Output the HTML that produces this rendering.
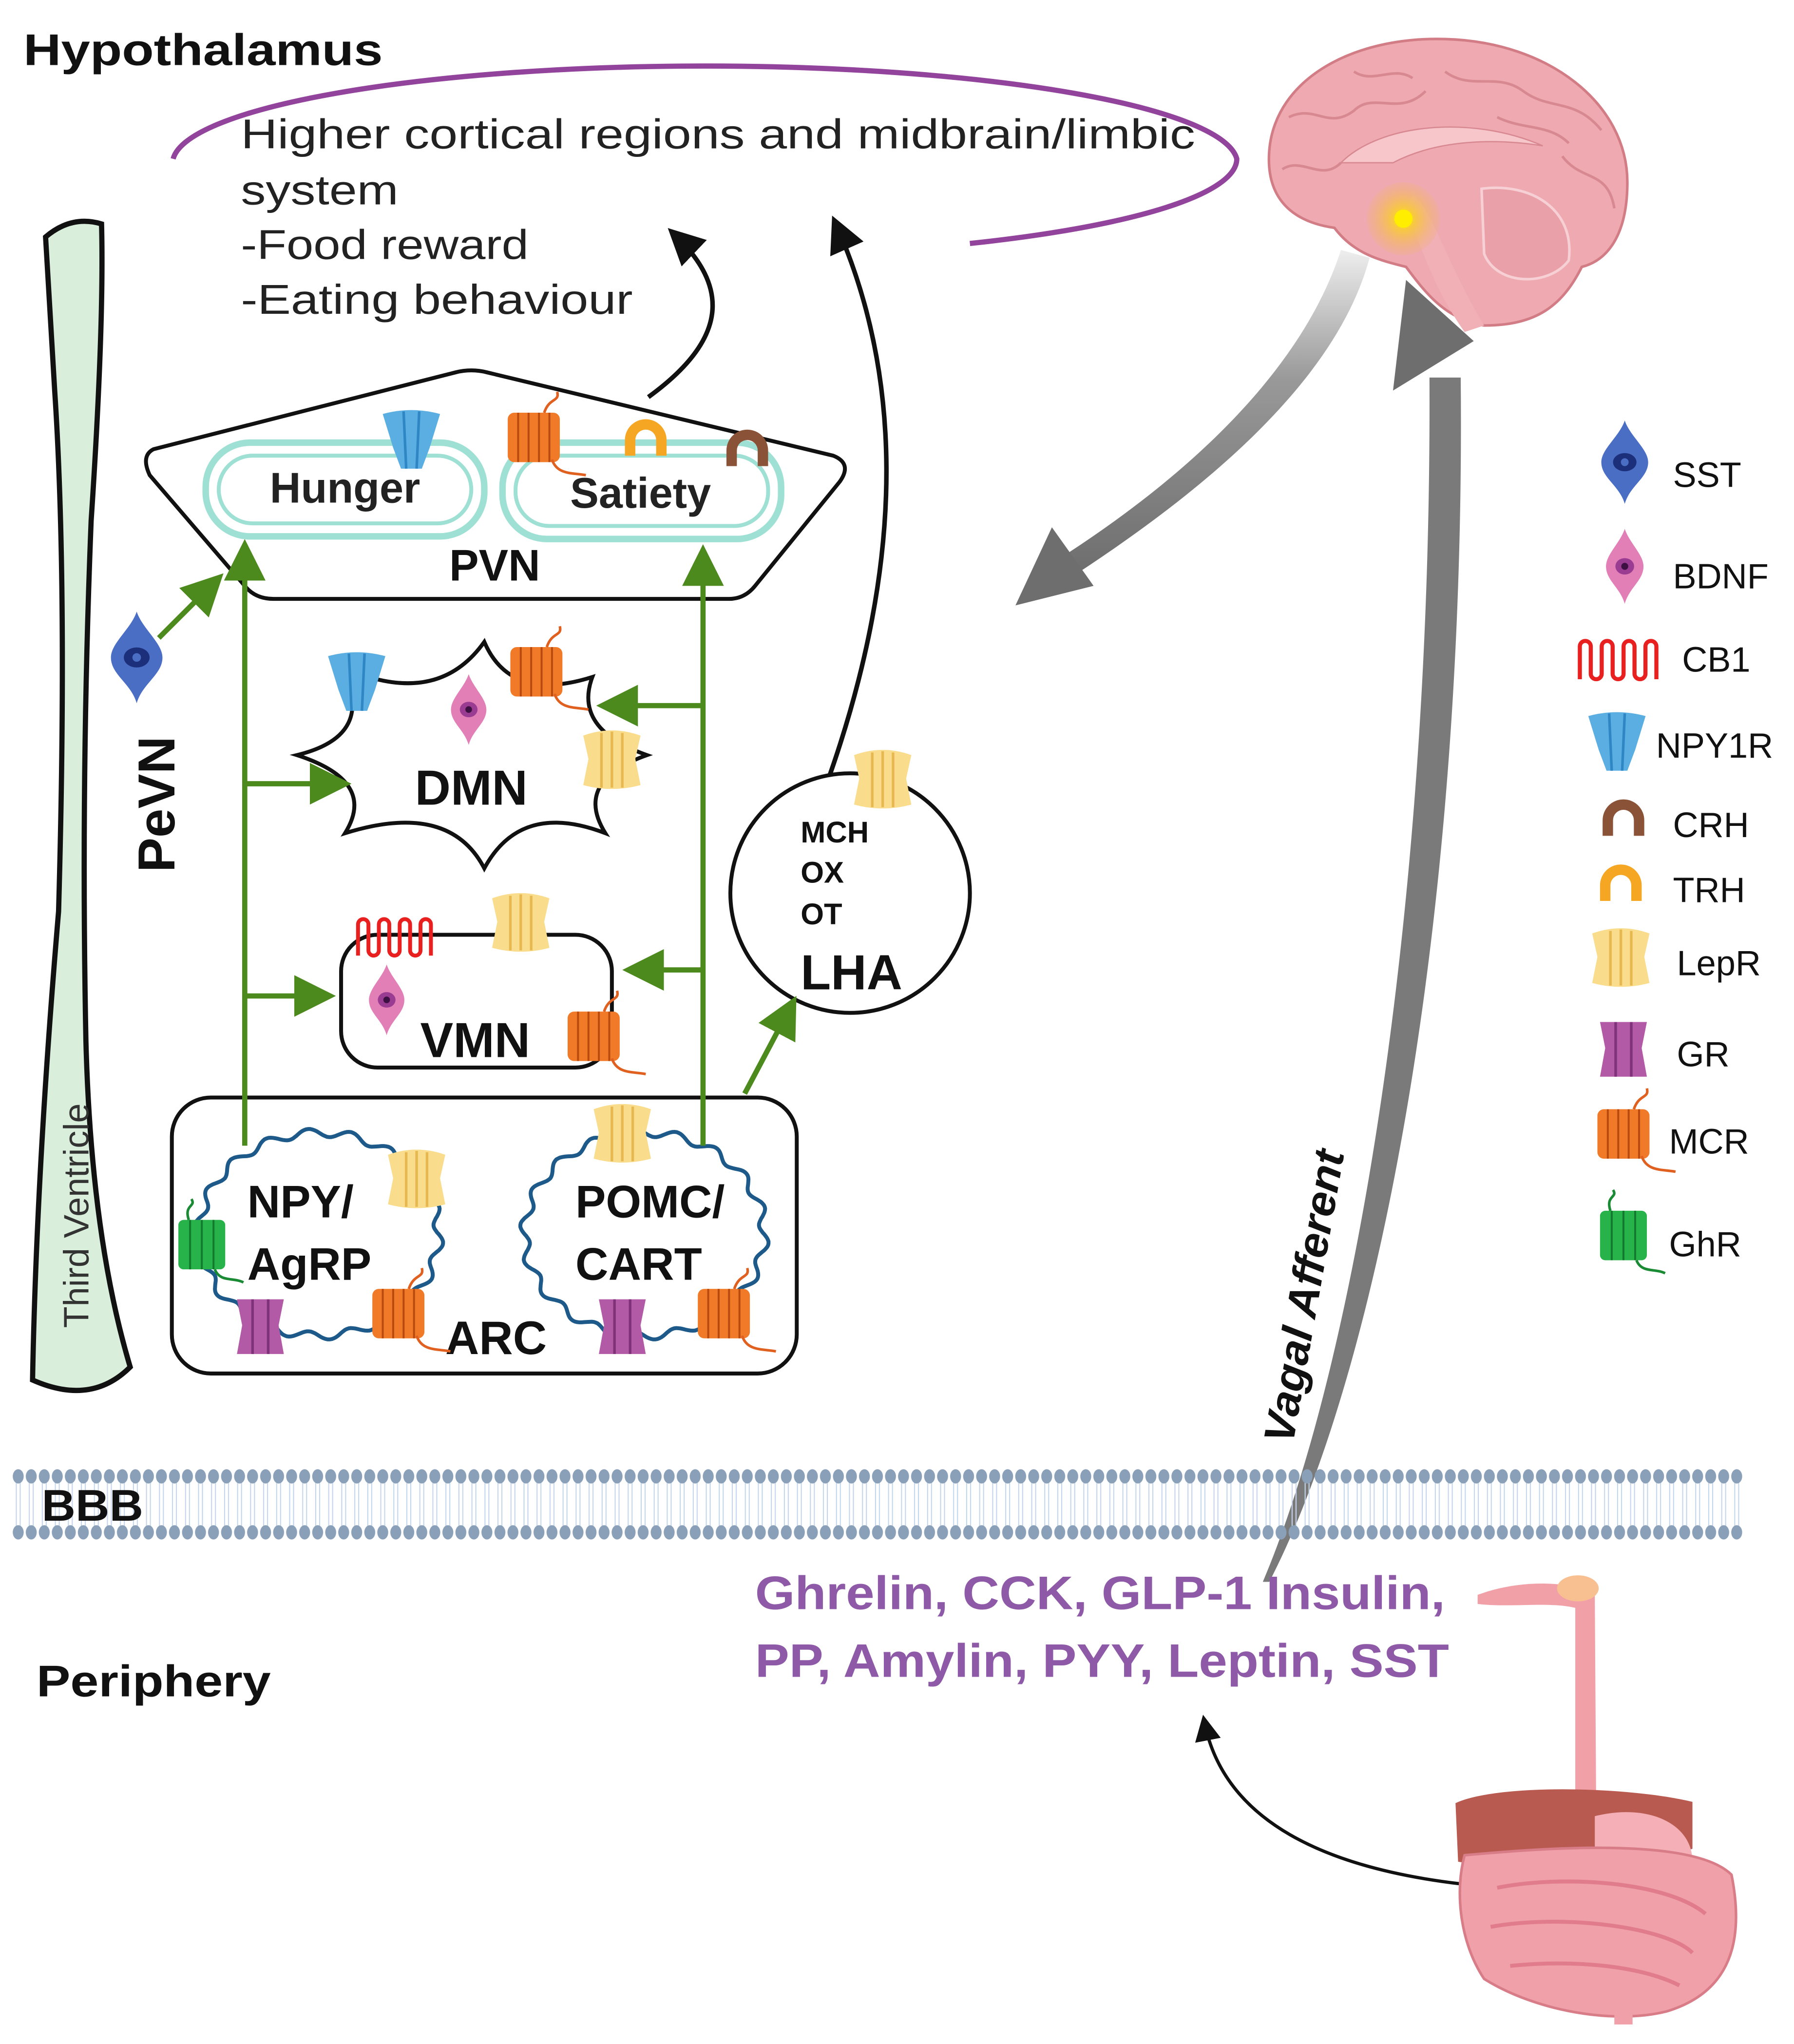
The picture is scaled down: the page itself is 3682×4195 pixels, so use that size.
<!DOCTYPE html>
<html><head><meta charset="utf-8">
<style>
html,body{margin:0;padding:0;background:#fff;}
svg{display:block;}
text{font-family:"Liberation Sans",sans-serif;}
</style></head>
<body>
<svg id="s" xmlns="http://www.w3.org/2000/svg" width="3682" height="4195" viewBox="0 0 1378 1570">
<defs>
  <marker id="ga" markerWidth="8" markerHeight="8" refX="6" refY="4" orient="auto" markerUnits="strokeWidth">
    <path d="M0,0 L8,4 L0,8 Z" fill="#4d8a1e"/>
  </marker>
  <marker id="ba" markerWidth="8" markerHeight="8" refX="6" refY="4" orient="auto" markerUnits="strokeWidth">
    <path d="M0,0 L8,4 L0,8 Z" fill="#111"/>
  </marker>
  <linearGradient id="fade" x1="0" y1="0" x2="0" y2="1">
    <stop offset="0" stop-color="#eee"/><stop offset="0.4" stop-color="#999"/><stop offset="1" stop-color="#6e6e6e"/>
  </linearGradient>
  <radialGradient id="glow"><stop offset="0" stop-color="#ffee00"/><stop offset="0.3" stop-color="#f8c840"/><stop offset="1" stop-color="#f3b070" stop-opacity="0.2"/></radialGradient>
  <pattern id="lip" width="10" height="48" patternUnits="userSpaceOnUse" x="9">
    <line x1="3.5" y1="0" x2="3.5" y2="48" stroke="#c4d6ec" stroke-width="0.8"/>
    <line x1="6.5" y1="0" x2="6.5" y2="48" stroke="#c4d6ec" stroke-width="0.8"/>
  </pattern>
  <pattern id="heads" width="10" height="12" patternUnits="userSpaceOnUse" x="9" y="1128">
    <ellipse cx="5" cy="6" rx="4.2" ry="5.5" fill="#8aa0b8"/>
  </pattern>
  <g id="mcr">
    <rect x="-20" y="-18" width="40" height="38" rx="5" fill="#f07a28"/>
    <g stroke="#b84a10" stroke-width="1.5"><line x1="-12" y1="-18" x2="-12" y2="20"/><line x1="-4" y1="-18" x2="-4" y2="20"/><line x1="4" y1="-18" x2="4" y2="20"/><line x1="12" y1="-18" x2="12" y2="20"/></g>
    <path d="M8,-18 C12,-30 20,-26 18,-34" stroke="#e06020" stroke-width="2" fill="none"/>
    <path d="M14,18 C18,30 30,28 40,30" stroke="#e06020" stroke-width="2" fill="none"/>
  </g>
  <g id="lepr">
    <path d="M-22,-18 Q0,-26 22,-18 L18,0 L22,20 Q0,26 -22,20 L-18,0 Z" fill="#f9dc8c"/>
    <g stroke="#e8b850" stroke-width="2"><line x1="-8" y1="-20" x2="-8" y2="22"/><line x1="0" y1="-21" x2="0" y2="22"/><line x1="8" y1="-20" x2="8" y2="22"/></g>
  </g>
  <g id="gr">
    <path d="M-18,-20 L18,-20 L14,0 L18,22 L-18,22 L-14,0 Z" fill="#b25aa6"/>
    <g stroke="#7e3278" stroke-width="2"><line x1="-6" y1="-20" x2="-6" y2="22"/><line x1="6" y1="-20" x2="6" y2="22"/></g>
  </g>
  <g id="ghr">
    <rect x="-18" y="-18" width="36" height="38" rx="4" fill="#27b24a"/>
    <g stroke="#127a2c" stroke-width="1.5"><line x1="-9" y1="-18" x2="-9" y2="20"/><line x1="0" y1="-18" x2="0" y2="20"/><line x1="9" y1="-18" x2="9" y2="20"/></g>
    <path d="M-10,-18 C-14,-30 -4,-28 -8,-34" stroke="#1a8a34" stroke-width="2" fill="none"/>
    <path d="M10,20 C14,30 24,26 32,30" stroke="#1a8a34" stroke-width="2" fill="none"/>
  </g>
  <g id="npy">
    <path d="M-22,-20 Q0,-26 22,-20 L14,6 L8,22 L-8,22 L-14,6 Z" fill="#5aaee2"/>
    <g stroke="#2f86c4" stroke-width="2"><line x1="-6" y1="-22" x2="-4" y2="22"/><line x1="6" y1="-22" x2="4" y2="22"/></g>
  </g>
  <path id="trh" d="M-16,12 L-16,0 A16,16 0 0 1 16,0 L16,12 L8,12 L8,0 A8,8 0 0 0 -8,0 L-8,12 Z" fill="#f5a623"/>
  <path id="crh" d="M-16,12 L-16,0 A16,16 0 0 1 16,0 L16,12 L8,12 L8,0 A8,8 0 0 0 -8,0 L-8,12 Z" fill="#8a5236"/>
  <path id="cb1" d="M-30,14 L-30,-10 A4,4 0 0 1 -22,-10 L-22,10 A4,4 0 0 0 -14,10 L-14,-10 A4,4 0 0 1 -6,-10 L-6,10 A4,4 0 0 0 2,10 L2,-10 A4,4 0 0 1 10,-10 L10,10 A4,4 0 0 0 18,10 L18,-10 A4,4 0 0 1 26,-10 L26,14" fill="none" stroke="#e82020" stroke-width="3"/>
  <g id="sst">
    <path d="M0,-32 C4,-20 18,-10 18,0 C18,12 4,18 0,32 C-4,18 -18,12 -18,0 C-18,-10 -4,-20 0,-32 Z" fill="#4a6ec4"/>
    <ellipse cx="0" cy="0" rx="9" ry="7" fill="#1c2f7a"/><circle cx="0" cy="0" r="3" fill="#4a6ec4"/>
  </g>
  <g id="bdnf">
    <path d="M0,-32 C4,-20 16,-10 16,0 C16,12 4,18 0,32 C-4,18 -16,12 -16,0 C-16,-10 -4,-20 0,-32 Z" fill="#e17fb6"/>
    <ellipse cx="0" cy="0" rx="8" ry="7" fill="#9a3c92"/><circle cx="0" cy="0" r="3" fill="#3c1040"/>
  </g>
</defs>

<!-- Title texts -->
<text x="18" y="50" font-size="34" font-weight="bold" fill="#111" textLength="276" lengthAdjust="spacingAndGlyphs">Hypothalamus</text>
<path d="M133,122 A409,75 0 0 1 950,122 A409,75 0 0 1 745,187" fill="none" stroke="#92439b" stroke-width="4"/>
<g font-size="32" fill="#222">
<text x="185" y="114" textLength="733" lengthAdjust="spacingAndGlyphs">Higher cortical regions and midbrain/limbic</text>
<text x="185" y="157" textLength="121" lengthAdjust="spacingAndGlyphs">system</text>
<text x="185" y="199" textLength="221" lengthAdjust="spacingAndGlyphs">-Food reward</text>
<text x="185" y="241" textLength="301" lengthAdjust="spacingAndGlyphs">-Eating behaviour</text>
</g>

<!-- Third ventricle -->
<path d="M35,182 Q55,165 78,172 Q80,250 70,400 Q62,600 66,800 Q70,950 100,1050 Q70,1080 25,1060 Q28,900 45,700 Q52,450 42,300 Z" fill="#d9efdb" stroke="#111" stroke-width="4"/>
<text transform="translate(68,1020) rotate(-90)" font-size="27" fill="#333">Third Ventricle</text>
<text transform="translate(134,670) rotate(-90)" font-size="40" font-weight="bold" fill="#111">PeVN</text>
<use href="#sst" transform="translate(105,505) scale(1.1)"/>
<line x1="122" y1="490" x2="166" y2="446" stroke="#4d8a1e" stroke-width="4" marker-end="url(#ga)"/>

<!-- curved black arrows -->
<path d="M498,305 C560,260 560,220 518,180" fill="none" stroke="#111" stroke-width="3.5" marker-end="url(#ba)"/>
<path d="M635,602 C700,420 690,280 642,172" fill="none" stroke="#111" stroke-width="3.5" marker-end="url(#ba)"/>

<!-- PVN -->
<path d="M118,345 L350,286 Q362,283 374,286 L640,350 Q655,356 645,370 L580,450 Q572,460 560,460 L210,460 Q196,460 188,450 L115,365 Q108,350 118,345 Z" fill="#fff" stroke="#111" stroke-width="3"/>
<rect x="158" y="340" width="214" height="72" rx="34" fill="#fff" stroke="#9ee0d4" stroke-width="5"/>
<rect x="168" y="350" width="194" height="52" rx="26" fill="none" stroke="#9ee0d4" stroke-width="3"/>
<rect x="386" y="340" width="214" height="74" rx="34" fill="#fff" stroke="#9ee0d4" stroke-width="5"/>
<rect x="396" y="350" width="194" height="54" rx="26" fill="none" stroke="#9ee0d4" stroke-width="3"/>
<text x="265" y="386" font-size="33" font-weight="bold" text-anchor="middle" fill="#222">Hunger</text>
<text x="492" y="390" font-size="33" font-weight="bold" text-anchor="middle" fill="#222">Satiety</text>
<text x="380" y="446" font-size="34" font-weight="bold" text-anchor="middle" fill="#111">PVN</text>
<use href="#npy" transform="translate(316,338)"/>
<use href="#mcr" transform="translate(410,335)"/>
<use href="#trh" transform="translate(496,338)"/>
<use href="#crh" transform="translate(574,346)"/>

<!-- DMN -->
<path d="M372,493 Q392,540 455,520 Q440,560 497,580 Q440,600 465,640 Q400,615 372,667 Q345,615 265,640 Q290,600 228,580 Q290,565 262,512 Q335,545 372,493 Z" fill="#fff" stroke="#111" stroke-width="3"/>
<text x="362" y="618" font-size="38" font-weight="bold" text-anchor="middle" fill="#111">DMN</text>
<use href="#npy" transform="translate(274,524)"/>
<use href="#bdnf" transform="translate(360,545) scale(0.85)"/>
<use href="#mcr" transform="translate(412,515)"/>
<use href="#lepr" transform="translate(470,583)"/>

<!-- VMN -->
<rect x="262" y="718" width="208" height="102" rx="28" fill="#fff" stroke="#111" stroke-width="3"/>
<text x="365" y="812" font-size="38" font-weight="bold" text-anchor="middle" fill="#111">VMN</text>
<use href="#cb1" transform="translate(305,720)"/>
<use href="#lepr" transform="translate(400,708)"/>
<use href="#bdnf" transform="translate(297,768) scale(0.85)"/>
<use href="#mcr" transform="translate(456,795)"/>

<!-- LHA -->
<circle cx="653" cy="686" r="92" fill="#fff" stroke="#111" stroke-width="3"/>
<use href="#lepr" transform="translate(678,598)"/>
<g font-size="23" font-weight="bold" fill="#111">
<text x="615" y="647">MCH</text><text x="615" y="678">OX</text><text x="615" y="710">OT</text>
</g>
<text x="615" y="760" font-size="38" font-weight="bold" fill="#111">LHA</text>

<!-- ARC -->
<rect x="132" y="843" width="480" height="212" rx="30" fill="#fff" stroke="#111" stroke-width="3"/>
<path id="w1" d="" fill="none" stroke="#1d5a8a" stroke-width="3"/>
<path id="w2" d="" fill="none" stroke="#1d5a8a" stroke-width="3"/>
<text x="190" y="935" font-size="35" font-weight="bold" fill="#111">NPY/</text>
<text x="190" y="983" font-size="35" font-weight="bold" fill="#111">AgRP</text>
<text x="442" y="935" font-size="35" font-weight="bold" fill="#111">POMC/</text>
<text x="442" y="983" font-size="35" font-weight="bold" fill="#111">CART</text>
<text x="342" y="1040" font-size="36" font-weight="bold" fill="#111">ARC</text>
<use href="#ghr" transform="translate(155,955)"/>
<use href="#lepr" transform="translate(320,905)"/>
<use href="#gr" transform="translate(200,1018)"/>
<use href="#mcr" transform="translate(306,1008)"/>
<use href="#lepr" transform="translate(478,870)"/>
<use href="#gr" transform="translate(478,1018)"/>
<use href="#mcr" transform="translate(556,1008)"/>

<!-- green arrows -->
<g stroke="#4d8a1e" stroke-width="4" fill="none">
<line x1="188" y1="880" x2="188" y2="422" marker-end="url(#ga)"/>
<line x1="540" y1="880" x2="540" y2="426" marker-end="url(#ga)"/>
<line x1="188" y1="602" x2="262" y2="602" marker-end="url(#ga)"/>
<line x1="188" y1="765" x2="250" y2="765" marker-end="url(#ga)"/>
<line x1="540" y1="542" x2="466" y2="542" marker-end="url(#ga)"/>
<line x1="540" y1="745" x2="486" y2="745" marker-end="url(#ga)"/>
<line x1="572" y1="840" x2="608" y2="772" marker-end="url(#ga)"/>
</g>

<!-- Brain -->
<g>
<path d="M975,115 C980,60 1040,28 1110,30 C1190,32 1250,80 1250,140 C1250,180 1235,200 1215,205 C1200,235 1180,250 1140,250 C1110,245 1095,225 1080,205 C1060,200 1040,195 1025,175 C990,170 972,150 975,115 Z" fill="#eeaab0" stroke="#d27c86" stroke-width="2"/>
<g stroke="#d88890" stroke-width="2" fill="none">
<path d="M990,90 C1010,80 1020,100 1040,85 C1055,70 1075,90 1095,70 M1110,55 C1130,70 1150,55 1170,70 C1190,85 1210,75 1230,100 M985,130 C1000,120 1015,140 1030,125 M1200,120 C1215,140 1235,130 1240,160 M1040,55 C1055,65 1070,50 1085,60 M1150,90 C1170,100 1190,95 1205,110"/>
</g>
<path d="M1030,125 C1060,95 1130,88 1185,112 C1160,108 1110,104 1070,125 Z" fill="#f6c6ca" stroke="#d88890"/>
<path d="M1138,145 C1175,140 1210,160 1205,200 C1190,220 1150,220 1140,195 Z" fill="#e9a0a8" stroke="#f6d0d4" stroke-width="2"/>
<path d="M1085,150 C1100,160 1110,200 1140,250 L1125,255 C1100,220 1090,185 1080,160 Z" fill="#f0b0b6"/>
<circle cx="1078" cy="168" r="28" fill="url(#glow)"/>
<circle cx="1078" cy="168" r="7" fill="#ffee00"/>
</g>

<!-- gray arrows -->
<path d="M1052,198 C1030,280 950,360 828,440 L820,425 C935,350 1005,270 1030,192 Z" fill="url(#fade)"/>
<path d="M780,465 L808,405 L840,450 Z" fill="#6e6e6e"/>
<path d="M970,1215 C1040,1050 1100,700 1098,290 L1122,290 C1126,700 1060,1050 975,1215 Z" fill="#7a7a7a"/>
<path d="M1070,300 L1080,215 L1132,262 Z" fill="#6e6e6e"/>
<text transform="translate(993,1110) rotate(-80)" font-size="33" font-weight="bold" font-style="italic" fill="#111" textLength="228" lengthAdjust="spacingAndGlyphs">Vagal Afferent</text>

<!-- Legend -->
<g font-size="27" fill="#111">
<use href="#sst" transform="translate(1248,355)"/><text x="1285" y="374">SST</text>
<use href="#bdnf" transform="translate(1248,435) scale(0.9)"/><text x="1285" y="452">BDNF</text>
<use href="#cb1" transform="translate(1245,507) scale(1.05)"/><text x="1292" y="516">CB1</text>
<use href="#npy" transform="translate(1242,570)"/><text x="1272" y="582">NPY1R</text>
<use href="#crh" transform="translate(1247,630)"/><text x="1285" y="643">CRH</text>
<use href="#trh" transform="translate(1245,680)"/><text x="1285" y="693">TRH</text>
<use href="#lepr" transform="translate(1245,735)"/><text x="1288" y="749">LepR</text>
<use href="#gr" transform="translate(1247,805)"/><text x="1288" y="819">GR</text>
<use href="#mcr" transform="translate(1247,870)"/><text x="1282" y="886">MCR</text>
<use href="#ghr" transform="translate(1247,948)"/><text x="1282" y="965">GhR</text>
</g>

<!-- BBB membrane -->
<rect x="9" y="1138" width="1330" height="36" fill="url(#lip)"/>
<rect x="9" y="1128" width="1330" height="12" fill="url(#heads)"/>
<rect x="9" y="1171" width="1330" height="12" fill="url(#heads)" transform="translate(0,43)" style="display:none"/>
<g transform="translate(0,43)"><rect x="9" y="1128" width="1330" height="12" fill="url(#heads)"/></g>
<text x="32" y="1168" font-size="34" font-weight="bold" fill="#111" textLength="78" lengthAdjust="spacingAndGlyphs">BBB</text>

<text x="580" y="1236" font-size="36" font-weight="bold" fill="#8e5aa8" textLength="530" lengthAdjust="spacingAndGlyphs">Ghrelin, CCK, GLP-1 Insulin,</text>
<text x="580" y="1288" font-size="36" font-weight="bold" fill="#8e5aa8" textLength="533" lengthAdjust="spacingAndGlyphs">PP, Amylin, PYY, Leptin, SST</text>
<text x="28" y="1303" font-size="34" font-weight="bold" fill="#111" textLength="180" lengthAdjust="spacingAndGlyphs">Periphery</text>

<path d="M1122,1447 C1020,1435 940,1400 925,1322" fill="none" stroke="#111" stroke-width="2.5" marker-end="url(#ba)"/>

<!-- Gut -->
<g>
<path d="M1135,1225 C1170,1212 1210,1215 1225,1225 L1226,1380 L1210,1380 L1210,1235 C1190,1230 1160,1235 1135,1232 Z" fill="#f2a0a8"/>
<ellipse cx="1212" cy="1220" rx="16" ry="10" fill="#f8c090"/>
<path d="M1118,1385 C1150,1370 1250,1372 1300,1384 L1300,1420 C1250,1440 1180,1440 1120,1430 Z" fill="#b85a50"/>
<path d="M1225,1395 C1265,1385 1300,1400 1300,1430 C1280,1445 1240,1440 1225,1420 Z" fill="#f4b0b6"/>
<path d="M1125,1425 C1180,1420 1300,1410 1330,1440 C1340,1490 1330,1530 1280,1545 C1240,1555 1180,1545 1140,1520 C1120,1490 1118,1450 1125,1425 Z" fill="#f0a0a8" stroke="#d87c88" stroke-width="2"/>
<path d="M1150,1450 C1200,1440 1280,1445 1310,1470 M1145,1480 C1200,1470 1280,1480 1300,1500 M1160,1510 C1210,1505 1260,1510 1290,1525" stroke="#e07c8c" stroke-width="3" fill="none"/>
<rect x="1240" y="1535" width="14" height="20" fill="#f0a0a8"/>
</g>

<script>
(function(){
function wavy(id,cx,cy,rx,ry,n,a){
  var d="";
  for(var i=0;i<=360;i++){
    var t=i/360*2*Math.PI;
    var r=1+a*Math.sin(n*t);
    var x=cx+rx*r*Math.cos(t), y=cy+ry*r*Math.sin(t);
    d+=(i?"L":"M")+x.toFixed(1)+","+y.toFixed(1);
  }
  document.getElementById(id).setAttribute("d",d+"Z");
}
wavy("w1",245,948,92,78,18,0.04);
wavy("w2",495,948,92,78,18,0.04);
})();
</script>
</svg>
</body></html>
